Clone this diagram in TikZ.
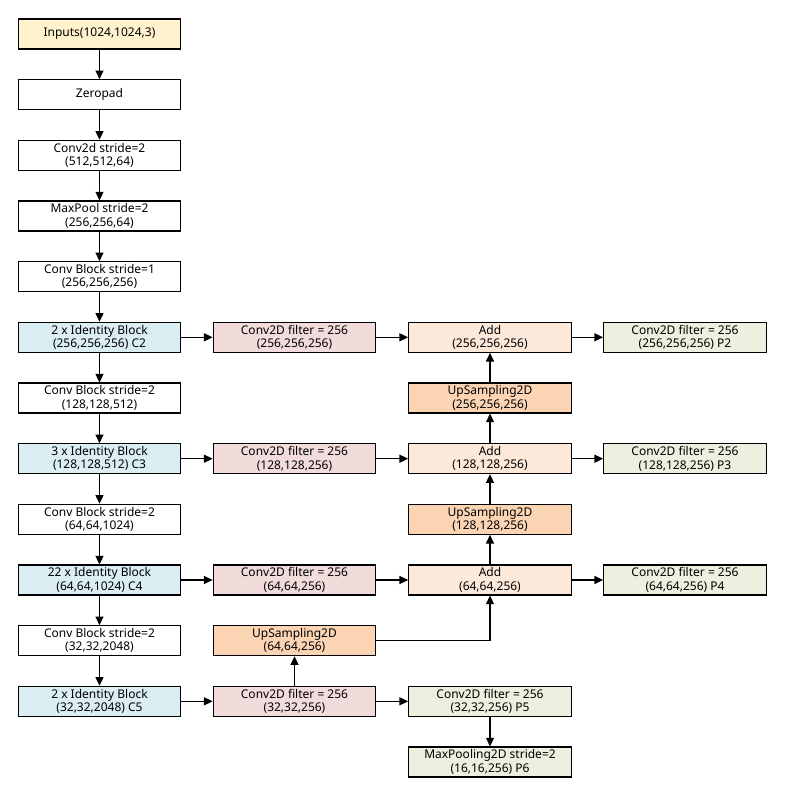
\documentclass[tikz,border=0pt]{standalone}
\usepackage{fontspec}
\setmainfont{Noto Sans}
\usetikzlibrary{arrows.meta}
\definecolor{inputfill}{HTML}{FFF2CC}
\definecolor{idfill}{HTML}{DAEEF3}
\definecolor{convfill}{HTML}{F2DCDB}
\definecolor{addfill}{HTML}{FDE9D9}
\definecolor{upfill}{HTML}{FBD4B4}
\definecolor{outfill}{HTML}{EBF1DE}
\begin{document}
\begin{tikzpicture}[x=0.75pt, y=-0.75pt, line width=0.8pt, >={Stealth[length=6.5pt,width=6pt,inset=0pt]},
    box/.style={draw, line width=0.8pt, minimum width=122pt, minimum height=22.5pt, inner sep=0pt,
        align=center, font=\fontsize{9}{10}\selectfont},
    flow/.style={->, line width=0.9pt}]
    \useasboundingbox (0,0) rectangle (786,790);
    % backbone
    \node[box, fill=inputfill] (inputs) at (99.5,34) {Inputs(1024,1024,3)};
    \node[box] (zeropad) at (99.5,94.7) {Zeropad};
    \node[box] (conv1) at (99.5,155.3) {Conv2d stride=2\\(512,512,64)};
    \node[box] (maxpool) at (99.5,216) {MaxPool stride=2\\(256,256,64)};
    \node[box] (convb2) at (99.5,276.7) {Conv Block stride=1\\(256,256,256)};
    \node[box, fill=idfill] (c2) at (99.5,337.3) {2 x Identity Block\\(256,256,256) C2};
    \node[box] (convb3) at (99.5,398) {Conv Block stride=2\\(128,128,512)};
    \node[box, fill=idfill] (c3) at (99.5,458.7) {3 x Identity Block\\(128,128,512) C3};
    \node[box] (convb4) at (99.5,519.3) {Conv Block stride=2\\(64,64,1024)};
    \node[box, fill=idfill] (c4) at (99.5,580) {22 x Identity Block\\(64,64,1024) C4};
    \node[box] (convb5) at (99.5,640.7) {Conv Block stride=2\\(32,32,2048)};
    \node[box, fill=idfill] (c5) at (99.5,701.3) {2 x Identity Block\\(32,32,2048) C5};
    % lateral convs
    \node[box, fill=convfill] (lat2) at (294.5,337.3) {Conv2D filter = 256\\(256,256,256)};
    \node[box, fill=convfill] (lat3) at (294.5,458.7) {Conv2D filter = 256\\(128,128,256)};
    \node[box, fill=convfill] (lat4) at (294.5,580) {Conv2D filter = 256\\(64,64,256)};
    \node[box, fill=upfill] (up4) at (294.5,640.7) {UpSampling2D\\(64,64,256)};
    \node[box, fill=convfill] (lat5) at (294.5,701.3) {Conv2D filter = 256\\(32,32,256)};
    % top-down path
    \node[box, fill=addfill] (add2) at (490,337.3) {Add\\(256,256,256)};
    \node[box, fill=upfill] (up2) at (490,398) {UpSampling2D\\(256,256,256)};
    \node[box, fill=addfill] (add3) at (490,458.7) {Add\\(128,128,256)};
    \node[box, fill=upfill] (up3) at (490,519.3) {UpSampling2D\\(128,128,256)};
    \node[box, fill=addfill] (add4) at (490,580) {Add\\(64,64,256)};
    \node[box, fill=outfill] (p5) at (490,701.3) {Conv2D filter = 256\\(32,32,256) P5};
    \node[box, fill=outfill] (p6) at (490,762) {MaxPooling2D stride=2\\(16,16,256) P6};
    % outputs
    \node[box, fill=outfill] (p2) at (685,337.3) {Conv2D filter = 256\\(256,256,256) P2};
    \node[box, fill=outfill] (p3) at (685,458.7) {Conv2D filter = 256\\(128,128,256) P3};
    \node[box, fill=outfill] (p4) at (685,580) {Conv2D filter = 256\\(64,64,256) P4};

    \draw[flow] (inputs) -- (zeropad);
    \draw[flow] (zeropad) -- (conv1);
    \draw[flow] (conv1) -- (maxpool);
    \draw[flow] (maxpool) -- (convb2);
    \draw[flow] (convb2) -- (c2);
    \draw[flow] (c2) -- (convb3);
    \draw[flow] (convb3) -- (c3);
    \draw[flow] (c3) -- (convb4);
    \draw[flow] (convb4) -- (c4);
    \draw[flow] (c4) -- (convb5);
    \draw[flow] (convb5) -- (c5);

    \draw[flow] (c2) -- (lat2);
    \draw[flow] (c3) -- (lat3);
    \draw[flow] (c4) -- (lat4);
    \draw[flow] (c5) -- (lat5);
    \draw[flow] (lat2) -- (add2);
    \draw[flow] (lat3) -- (add3);
    \draw[flow] (lat4) -- (add4);
    \draw[flow] (lat5) -- (p5);
    \draw[flow] (add2) -- (p2);
    \draw[flow] (add3) -- (p3);
    \draw[flow] (add4) -- (p4);

    \draw[flow] (lat5) -- (up4);
    \draw[flow] (up4.east) -| (add4.south);
    \draw[flow] (add4) -- (up3);
    \draw[flow] (up3) -- (add3);
    \draw[flow] (add3) -- (up2);
    \draw[flow] (up2) -- (add2);
    \draw[flow] (p5) -- (p6);
\end{tikzpicture}
\end{document}
